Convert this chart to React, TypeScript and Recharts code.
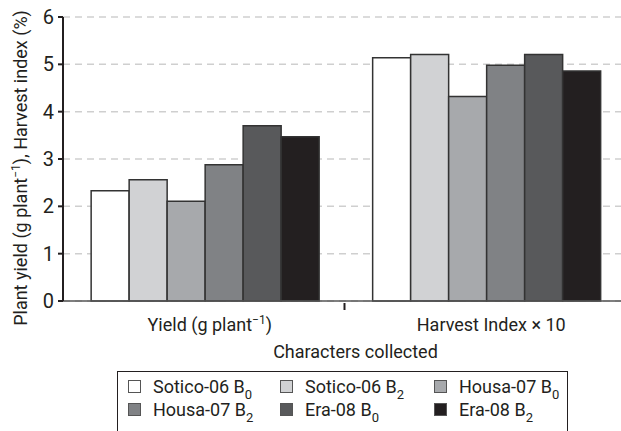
import React from 'react';
import { Bar, BarChart, CartesianGrid, Label, XAxis, YAxis } from 'recharts';

// tick label pieces: [text, superscript, tail]
const categoryParts: Array<[string, string, string]> = [
  ['Yield (g plant', '−1', ')'],
  ['Harvest Index × 10', '', ''],
];
const categories = ['yield', 'harvest'];

const seriesKeys = ['s06b0', 's06b2', 'h07b0', 'h07b2', 'e08b0', 'e08b2'];
const seriesNames = ['Sotico-06 B', 'Sotico-06 B', 'Housa-07 B', 'Housa-07 B', 'Era-08 B', 'Era-08 B'];
const seriesSubs = ['0', '2', '0', '2', '0', '2'];
const seriesColors = ['#ffffff', '#d1d2d4', '#a7a9ac', '#808285', '#58595b', '#231f20'];

const sotico06B0 = [2.33, 5.14];
const sotico06B2 = [2.56, 5.21];
const housa07B0 = [2.11, 4.32];
const housa07B2 = [2.88, 4.98];
const era08B0 = [3.7, 5.21];
const era08B2 = [3.47, 4.86];

const yTicks = [0, 1, 2, 3, 4, 5, 6];

const seriesValues = [sotico06B0, sotico06B2, housa07B0, housa07B2, era08B0, era08B2];

const data = categories.map((c, i) => {
  const row: Record<string, string | number> = { cat: c };
  seriesKeys.forEach((k, j) => {
    row[k] = seriesValues[j][i];
  });
  return row;
});

const font = "Roboto, 'Liberation Sans', sans-serif";
const ink = '#231f20';

function CategoryTick(props: any) {
  const { x, y, payload, index } = props;
  const parts = categoryParts[index] ?? [String(payload.value), '', ''];
  const half = payload?.offset ?? 140;
  return (
    <g>
      {index > 0 && (
        <line x1={x - half} x2={x - half} y1={y - 6} y2={y + 1} stroke={ink} strokeWidth={2} />
      )}
      <text x={x + 6} y={y + 22} textAnchor="middle" fontFamily={font} fontSize={18} fill={ink}>
        {parts[0]}
        {parts[1] && (
          <tspan dy={-7} fontSize={12}>
            {parts[1]}
          </tspan>
        )}
        {parts[2] && <tspan dy={7}>{parts[2]}</tspan>}
      </text>
    </g>
  );
}

function XTitle(props: any) {
  const vb = props.viewBox;
  return (
    <text x={vb.x + vb.width / 2 + 11} y={vb.y + 57} textAnchor="middle" fontFamily={font} fontSize={18} fill={ink}>
      Characters collected
    </text>
  );
}

function YTitle() {
  return (
    <text
      x={27}
      y={168}
      transform="rotate(-90, 27, 168)"
      textAnchor="middle"
      fontFamily={font}
      fontSize={18}
      fill={ink}
    >
      Plant yield (g plant
      <tspan dy={-7} fontSize={12}>
        −1
      </tspan>
      <tspan dy={7}>), Harvest index (%)</tspan>
    </text>
  );
}

function LegendBox() {
  return (
    <div
      style={{
        position: 'absolute',
        left: 117,
        top: 371,
        width: 451,
        height: 80,
        border: `1.5px solid ${ink}`,
        fontFamily: font,
        fontSize: 18,
        color: ink,
        display: 'grid',
        gridTemplateColumns: '152px 154px 1fr',
        gridAutoRows: '23px',
        paddingLeft: 10,
        paddingTop: 3,
        boxSizing: 'border-box',
      }}
    >
      {seriesKeys.map((k, i) => (
        <div key={k} style={{ display: 'flex', alignItems: 'center', whiteSpace: 'nowrap' }}>
          <span
            style={{
              display: 'inline-block',
              width: 11,
              height: 11,
              background: seriesColors[i],
              border: '1px solid #555',
              marginRight: 12,
            }}
          />
          <span>
            {seriesNames[i]}
            <span style={{ fontSize: 13, position: 'relative', top: 6 }}>{seriesSubs[i]}</span>
          </span>
        </div>
      ))}
    </div>
  );
}

export default function App() {
  return (
    <div style={{ position: 'absolute', left: 0, top: 0, width: 621, height: 431, overflow: 'hidden', background: '#fff' }}>
      <BarChart
        width={628}
        height={431}
        data={data}
        margin={{ top: 17, right: 2, left: 0, bottom: 100 }}
        barCategoryGap="10%"
        barGap={0}
      >
        <CartesianGrid vertical={false} stroke="#cfcfcf" strokeDasharray="7 5" strokeWidth={1.5} />
        <XAxis
          dataKey="cat"
          height={30}
          axisLine={{ stroke: '#555', strokeWidth: 1.5 }}
          tickLine={false}
          tick={<CategoryTick />}
          interval={0}
        >
          <Label content={(p: any) => <XTitle {...p} />} />
        </XAxis>
        <YAxis
          width={63}
          domain={[0, 6]}
          ticks={yTicks}
          interval={0}
          axisLine={{ stroke: ink, strokeWidth: 2 }}
          tickLine={{ stroke: ink, strokeWidth: 2 }}
          tickSize={5}
          tickMargin={4}
          tick={{ fontFamily: font, fontSize: 20, fill: ink }}
        />
        {seriesKeys.map((k, i) => (
          <Bar
            key={k}
            dataKey={k}
            fill={seriesColors[i]}
            stroke="#333"
            strokeWidth={1.5}
            isAnimationActive={false}
          />
        ))}
        <YTitle />
      </BarChart>
      <LegendBox />
    </div>
  );
}
